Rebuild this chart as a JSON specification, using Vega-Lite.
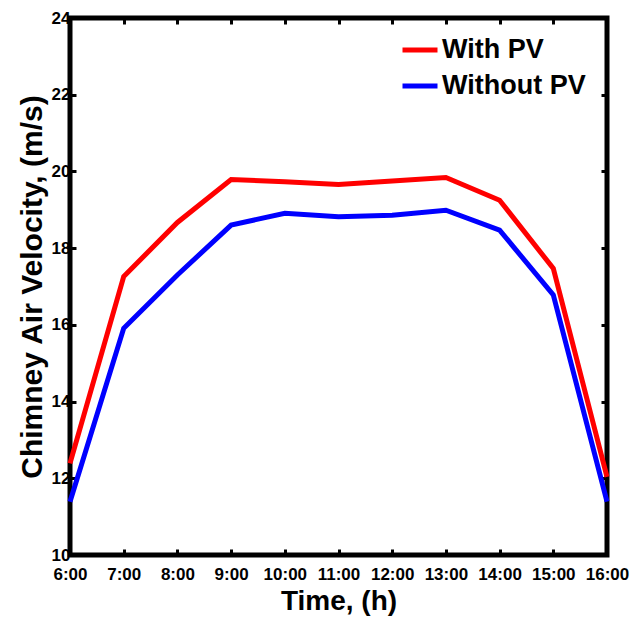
{
  "$schema": "https://vega.github.io/schema/vega-lite/v6.json",
  "autosize": "none",
  "width": 537,
  "height": 537,
  "padding": {"left": 70, "top": 18, "right": 25, "bottom": 64},
  "background": "white",
  "config": {
    "font": "Liberation Sans",
    "view": {"stroke": "black", "strokeWidth": 5},
    "axis": {
      "domain": false,
      "grid": false,
      "tickColor": "black",
      "tickWidth": 3,
      "tickSize": -6,
      "labelFont": "Liberation Sans",
      "labelFontWeight": "bold",
      "labelFontSize": 17,
      "labelColor": "black",
      "labelOverlap": false,
      "labelFlush": false,
      "labelBound": false,
      "titleFont": "Liberation Sans",
      "titleFontWeight": "bold",
      "titleColor": "black"
    }
  },
  "data": {
    "values": [
      {"hour": 6, "series": "With PV", "v": 12.39},
      {"hour": 7, "series": "With PV", "v": 17.26},
      {"hour": 8, "series": "With PV", "v": 18.67},
      {"hour": 9, "series": "With PV", "v": 19.79},
      {"hour": 10, "series": "With PV", "v": 19.73},
      {"hour": 11, "series": "With PV", "v": 19.66},
      {"hour": 12, "series": "With PV", "v": 19.75},
      {"hour": 13, "series": "With PV", "v": 19.84},
      {"hour": 14, "series": "With PV", "v": 19.25},
      {"hour": 15, "series": "With PV", "v": 17.47},
      {"hour": 16, "series": "With PV", "v": 12.04},
      {"hour": 6, "series": "Without PV", "v": 11.39},
      {"hour": 7, "series": "Without PV", "v": 15.91},
      {"hour": 8, "series": "Without PV", "v": 17.3},
      {"hour": 9, "series": "Without PV", "v": 18.6},
      {"hour": 10, "series": "Without PV", "v": 18.91},
      {"hour": 11, "series": "Without PV", "v": 18.82},
      {"hour": 12, "series": "Without PV", "v": 18.86},
      {"hour": 13, "series": "Without PV", "v": 18.99},
      {"hour": 14, "series": "Without PV", "v": 18.47},
      {"hour": 15, "series": "Without PV", "v": 16.78},
      {"hour": 16, "series": "Without PV", "v": 11.39}
    ]
  },
  "resolve": {"axis": {"x": "independent", "y": "independent"}},
  "layer": [
    {
      "mark": {"type": "line", "strokeWidth": 5, "opacity": 0},
      "encoding": {
        "x": {"field": "hour", "type": "quantitative", "scale": {"domain": [6, 16]},
              "axis": {"orient": "top", "values": [6,7,8,9,10,11,12,13,14,15,16], "labels": false, "title": null}},
        "y": {"field": "v", "type": "quantitative", "scale": {"domain": [10, 24]},
              "axis": {"orient": "right", "values": [10,12,14,16,18,20,22,24], "labels": false, "title": null}},
        "detail": {"field": "series"}
      }
    },
    {
      "mark": {"type": "line", "strokeWidth": 5},
      "encoding": {
        "x": {"field": "hour", "type": "quantitative", "scale": {"domain": [6, 16]},
              "axis": {"orient": "bottom", "values": [6,7,8,9,10,11,12,13,14,15,16], "labelExpr": "datum.value + ':00'", "title": "Time, (h)", "titleFontSize": 28, "labelPadding": 17, "titlePadding": 5}},
        "y": {"field": "v", "type": "quantitative", "scale": {"domain": [10, 24]},
              "axis": {"orient": "left", "values": [10,12,14,16,18,20,22,24], "title": "Chimney Air Velocity, (m/s)", "titleFontSize": 30, "labelPadding": 6, "titlePadding": 4}},
        "color": {"field": "series", "type": "nominal",
                  "scale": {"domain": ["With PV", "Without PV"], "range": ["#ff0000", "#0000ff"]},
                  "legend": {"title": null, "orient": "none", "legendX": 330, "legendY": 12,
                             "symbolType": "stroke", "symbolStrokeWidth": 5, "symbolSize": 1225,
                             "labelFont": "Liberation Sans", "labelFontWeight": "bold", "labelFontSize": 27, "labelColor": "black",
                             "rowPadding": 3, "labelOffset": 2}}
      }
    }
  ]
}
